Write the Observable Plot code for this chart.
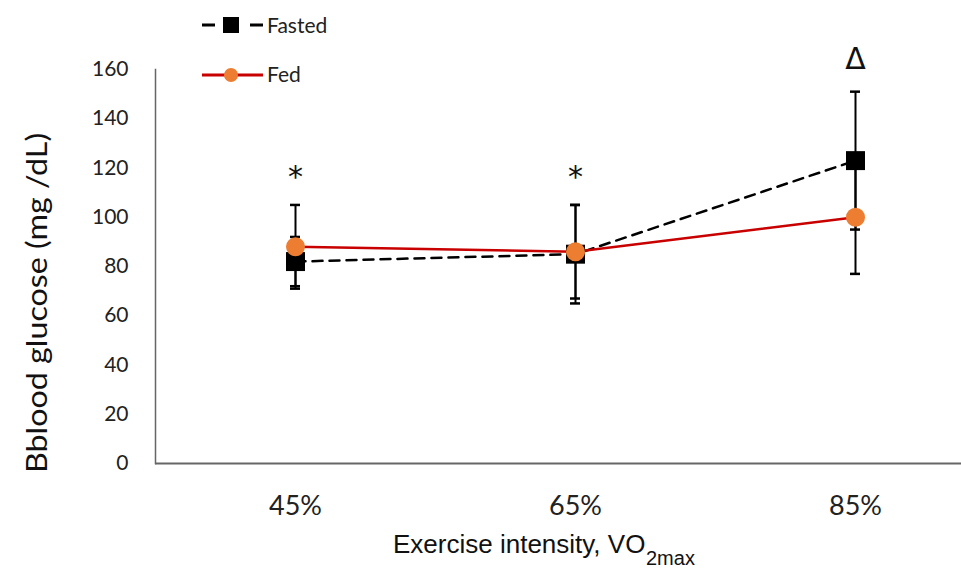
<!DOCTYPE html>
<html><head><meta charset="utf-8">
<script src="https://cdn.jsdelivr.net/npm/d3@7"></script>
<script src="https://cdn.jsdelivr.net/npm/@observablehq/plot@0.6"></script>
<style>body{margin:0;background:#fff}</style>
</head><body><div id="chart"></div>
<script>
const intensities = ["45%", "65%", "85%"];
const fastedMean = [82, 85, 123];
const fastedSD = [10, 20, 28];
const fedMean = [88, 86, 100];
const fedSD = [17, 19, 23];
const yTicks = [0, 20, 40, 60, 80, 100, 120, 140, 160];
const markIntensity = ["45%", "65%", "85%"];
const markValue = [116, 116, 164];
const markLabel = ["*", "*", "Δ"];

const rows = (m, s) => intensities.map((x, i) => ({x, mean: m[i], lo: m[i] - s[i], hi: m[i] + s[i]}));
const fasted = rows(fastedMean, fastedSD);
const fed = rows(fedMean, fedSD);
const marks = markIntensity.map((x, i) => ({x, y: markValue[i], t: markLabel[i]}));

const RED = "#c80000", ORANGE = "#ed7d31";
const CAP = 135; // inset for error-bar caps inside 280px band

const svg = Plot.plot({
  width: 961, height: 577,
  marginLeft: 155, marginRight: 0, marginTop: 69, marginBottom: 114,
  style: {fontFamily: "Lato, sans-serif", background: "white", overflow: "visible"},
  x: {type: "band", domain: intensities, range: [155, 995], padding: 0},
  y: {domain: [0, 160]},
  marks: [
    Plot.axisY({ticks: yTicks, tickSize: 0, tickPadding: 27, fontSize: 21, fill: "#222", label: null}),
    Plot.axisX({tickSize: 0, tickPadding: 32, fontSize: 27, fill: "#222", label: null}),
    Plot.ruleY([0], {stroke: "#666", strokeWidth: 2}),
    Plot.frame({anchor: "left", stroke: "#666", strokeWidth: 1.5}),
    Plot.ruleX(fasted, {x: "x", y1: "lo", y2: "hi", stroke: "black", strokeWidth: 2}),
    Plot.ruleX(fed, {x: "x", y1: "lo", y2: "hi", stroke: "black", strokeWidth: 2}),
    Plot.tickY(fasted, {x: "x", y: "lo", insetLeft: CAP, insetRight: CAP, stroke: "black", strokeWidth: 2.5}),
    Plot.tickY(fasted, {x: "x", y: "hi", insetLeft: CAP, insetRight: CAP, stroke: "black", strokeWidth: 2.5}),
    Plot.tickY(fed, {x: "x", y: "lo", insetLeft: CAP, insetRight: CAP, stroke: "black", strokeWidth: 2.5}),
    Plot.tickY(fed, {x: "x", y: "hi", insetLeft: CAP, insetRight: CAP, stroke: "black", strokeWidth: 2.5}),
    Plot.line(fasted, {x: "x", y: "mean", stroke: "black", strokeWidth: 2.5, strokeDasharray: "10,7"}),
    Plot.line(fed, {x: "x", y: "mean", stroke: RED, strokeWidth: 2.5}),
    Plot.dot(fasted, {x: "x", y: "mean", symbol: "square", r: 10.7, fill: "black", stroke: "none"}),
    Plot.dot(fed, {x: "x", y: "mean", r: 9.5, fill: ORANGE, stroke: "none"}),
    Plot.text(marks, {x: "x", y: "y", text: "t", fontSize: 30, fill: "#111", fontFamily: "DejaVu Sans, sans-serif", lineAnchor: "middle"})
  ]
});

const s = d3.select(svg);
// Legend
const lg = s.append("g").attr("font-family", "Lato, sans-serif").attr("font-size", 21)
  .attr("fill", "#222").attr("text-anchor", "start");
lg.append("line").attr("x1", 202).attr("x2", 263).attr("y1", 25).attr("y2", 25)
  .attr("stroke", "black").attr("stroke-width", 3).attr("stroke-dasharray", "13,35");
lg.append("rect").attr("x", 223).attr("y", 17).attr("width", 16).attr("height", 16).attr("fill", "black");
lg.append("text").attr("x", 267).attr("y", 33).text("Fasted");
lg.append("line").attr("x1", 202).attr("x2", 263).attr("y1", 75).attr("y2", 75)
  .attr("stroke", RED).attr("stroke-width", 3);
lg.append("circle").attr("cx", 231).attr("cy", 75).attr("r", 7).attr("fill", ORANGE);
lg.append("text").attr("x", 267).attr("y", 82).text("Fed");

// Y axis title
s.append("text").attr("transform", "translate(47,303) rotate(-90)")
  .attr("text-anchor", "middle").attr("font-family", "Lato, sans-serif").attr("font-size", 28)
  .attr("fill", "#111").attr("textLength", 340).attr("lengthAdjust", "spacingAndGlyphs")
  .text("Bblood glucose (mg /dL)");

// X axis title (main text + subscript)
const xg = s.append("g").attr("text-anchor", "start")
  .attr("font-family", "Liberation Sans, Arial, sans-serif").attr("fill", "#111");
xg.append("text").attr("x", 393).attr("y", 553).attr("font-size", 26).text("Exercise intensity, VO");
xg.append("text").attr("x", 646).attr("y", 565).attr("font-size", 20).text("2max");

document.getElementById("chart").appendChild(svg);
</script>
</body></html>
